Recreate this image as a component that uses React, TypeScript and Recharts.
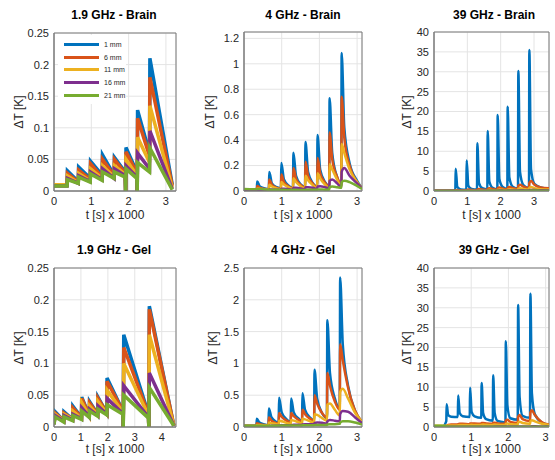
import { LineChart, Line, XAxis, YAxis, CartesianGrid, ReferenceArea } from 'recharts'

const seriesNames = ['1 mm', '6 mm', '11 mm', '16 mm', '21 mm']
const seriesColors = ['#0072BD', '#D95319', '#EDB120', '#7E2F8E', '#77AC30']

// 1.9 GHz - Brain
const brain19T = [0, 0.35, 0.36, 0.65, 0.66, 0.97, 0.98, 1.29, 1.30, 1.61, 1.62, 1.91, 1.92, 1.93, 2.22, 2.23, 2.24, 2.56, 2.57, 3.17]
const brain19 = [
  [0.01, 0.01, 0.032, 0.015, 0.038, 0.02, 0.047, 0.025, 0.057, 0.025, 0.053, 0.03, 0.0, 0.069, 0.03, 0.0, 0.128, 0.06, 0.21, 0.01],
  [0.01, 0.01, 0.028, 0.014, 0.033, 0.018, 0.043, 0.022, 0.05, 0.024, 0.05, 0.028, 0.0, 0.062, 0.028, 0.0, 0.115, 0.055, 0.18, 0.008],
  [0.01, 0.01, 0.024, 0.013, 0.028, 0.016, 0.035, 0.02, 0.04, 0.022, 0.04, 0.026, 0.0, 0.05, 0.025, 0.0, 0.085, 0.045, 0.135, 0.005],
  [0.008, 0.008, 0.02, 0.012, 0.024, 0.015, 0.03, 0.018, 0.035, 0.02, 0.035, 0.024, 0.0, 0.04, 0.022, 0.0, 0.06, 0.035, 0.095, 0.003],
  [0.008, 0.008, 0.018, 0.012, 0.022, 0.014, 0.027, 0.017, 0.03, 0.02, 0.03, 0.022, 0.0, 0.035, 0.02, 0.0, 0.045, 0.03, 0.068, 0.002],
]

// 4 GHz - Brain
const brain4T = [0, 0.34, 0.35, 0.42, 0.55, 0.66, 0.67, 0.74, 0.87, 0.98, 0.99, 1.06, 1.19, 1.30, 1.31, 1.38, 1.51, 1.62, 1.63, 1.70, 1.83, 1.94, 1.95, 2.02, 2.15, 2.26, 2.27, 2.34, 2.47, 2.58, 2.59, 2.66, 2.80, 3.00, 3.13]
const brain4 = [
  [0.01, 0.01, 0.075, 0.035, 0.02, 0.015, 0.15, 0.06, 0.03, 0.02, 0.22, 0.09, 0.04, 0.025, 0.30, 0.12, 0.05, 0.03, 0.385, 0.15, 0.06, 0.035, 0.44, 0.17, 0.07, 0.04, 0.73, 0.30, 0.11, 0.05, 1.085, 0.5, 0.22, 0.08, 0.02],
  [0.01, 0.01, 0.04, 0.025, 0.015, 0.012, 0.09, 0.05, 0.025, 0.015, 0.13, 0.07, 0.035, 0.02, 0.18, 0.095, 0.045, 0.025, 0.23, 0.12, 0.055, 0.03, 0.26, 0.14, 0.065, 0.035, 0.46, 0.25, 0.11, 0.045, 0.74, 0.42, 0.2, 0.07, 0.02],
  [0.01, 0.01, 0.02, 0.018, 0.012, 0.01, 0.05, 0.035, 0.02, 0.012, 0.07, 0.05, 0.028, 0.015, 0.10, 0.07, 0.035, 0.018, 0.12, 0.085, 0.045, 0.02, 0.14, 0.10, 0.05, 0.025, 0.21, 0.17, 0.09, 0.035, 0.37, 0.30, 0.17, 0.07, 0.02],
  [0.005, 0.005, 0.008, 0.008, 0.007, 0.006, 0.012, 0.012, 0.01, 0.008, 0.018, 0.018, 0.014, 0.01, 0.025, 0.025, 0.02, 0.012, 0.03, 0.03, 0.025, 0.015, 0.035, 0.038, 0.03, 0.02, 0.08, 0.09, 0.06, 0.03, 0.15, 0.18, 0.12, 0.06, 0.02],
  [0.015, 0.014, 0.015, 0.015, 0.012, 0.01, 0.01, 0.01, 0.01, 0.008, 0.009, 0.009, 0.008, 0.008, 0.009, 0.009, 0.008, 0.008, 0.01, 0.01, 0.009, 0.009, 0.012, 0.012, 0.01, 0.01, 0.03, 0.035, 0.03, 0.025, 0.07, 0.08, 0.07, 0.04, 0.015],
]

// 39 GHz - Brain
const brain39T = [0, 0.64, 0.65, 0.70, 0.80, 0.97, 0.98, 1.03, 1.13, 1.29, 1.30, 1.35, 1.45, 1.60, 1.61, 1.66, 1.76, 1.90, 1.91, 1.96, 2.06, 2.20, 2.21, 2.26, 2.36, 2.52, 2.53, 2.58, 2.68, 2.85, 2.86, 2.91, 3.01, 3.2, 3.45]
const brain39 = [
  [0.1, 0.15, 5.6, 1.0, 0.4, 0.3, 7.7, 1.3, 0.5, 0.35, 12.0, 2.0, 0.7, 0.4, 15.1, 2.4, 0.8, 0.45, 19.1, 3.0, 1.0, 0.5, 21.2, 3.4, 1.1, 0.6, 30.2, 4.8, 1.5, 0.7, 35.5, 5.5, 1.8, 0.9, 0.6],
  [0.05, 0.05, 0.15, 0.25, 0.15, 0.1, 0.25, 0.35, 0.25, 0.15, 0.35, 0.5, 0.35, 0.2, 0.5, 0.7, 0.5, 0.3, 0.7, 0.9, 0.6, 0.4, 0.8, 1.0, 0.7, 0.5, 1.3, 1.6, 1.1, 0.7, 2.0, 2.5, 1.6, 0.9, 0.7],
  [0.03, 0.03, 0.06, 0.1, 0.08, 0.06, 0.1, 0.15, 0.12, 0.08, 0.15, 0.22, 0.16, 0.1, 0.2, 0.3, 0.22, 0.15, 0.3, 0.4, 0.3, 0.2, 0.35, 0.45, 0.35, 0.25, 0.55, 0.7, 0.5, 0.35, 0.8, 1.0, 0.7, 0.45, 0.35],
  [0.02, 0.02, 0.03, 0.04, 0.04, 0.03, 0.04, 0.05, 0.05, 0.04, 0.05, 0.07, 0.06, 0.05, 0.07, 0.09, 0.08, 0.06, 0.09, 0.12, 0.1, 0.08, 0.11, 0.14, 0.12, 0.1, 0.16, 0.2, 0.17, 0.13, 0.22, 0.28, 0.24, 0.18, 0.15],
  [0.02, 0.02, 0.02, 0.02, 0.02, 0.02, 0.02, 0.03, 0.03, 0.03, 0.03, 0.03, 0.03, 0.03, 0.04, 0.04, 0.04, 0.04, 0.04, 0.05, 0.05, 0.05, 0.05, 0.06, 0.06, 0.06, 0.07, 0.08, 0.08, 0.07, 0.09, 0.1, 0.1, 0.09, 0.08],
]

// 1.9 GHz - Gel
const gel19T = [0, 0.04, 0.36, 0.37, 0.69, 0.70, 1.02, 1.03, 1.31, 1.32, 1.62, 1.63, 1.96, 1.97, 2.56, 2.57, 2.59, 3.51, 3.52, 3.54, 4.45]
const gel19 = [
  [0.005, 0.024, 0.01, 0.024, 0.012, 0.033, 0.015, 0.047, 0.018, 0.04, 0.02, 0.047, 0.022, 0.077, 0.025, 0.0, 0.145, 0.02, 0.0, 0.19, 0.002],
  [0.005, 0.022, 0.01, 0.022, 0.012, 0.03, 0.015, 0.045, 0.018, 0.038, 0.02, 0.045, 0.022, 0.072, 0.025, 0.0, 0.125, 0.02, 0.0, 0.185, 0.002],
  [0.005, 0.02, 0.01, 0.02, 0.012, 0.025, 0.014, 0.038, 0.017, 0.033, 0.019, 0.04, 0.021, 0.058, 0.023, 0.0, 0.1, 0.018, 0.0, 0.145, 0.002],
  [0.004, 0.018, 0.009, 0.018, 0.011, 0.02, 0.013, 0.03, 0.016, 0.028, 0.018, 0.033, 0.02, 0.045, 0.021, 0.0, 0.065, 0.015, 0.0, 0.085, 0.002],
  [0.004, 0.016, 0.008, 0.016, 0.01, 0.018, 0.012, 0.025, 0.015, 0.025, 0.017, 0.028, 0.019, 0.035, 0.02, 0.0, 0.05, 0.014, 0.0, 0.062, 0.002],
]

// 4 GHz - Gel
const gel4T = [0, 0.33, 0.34, 0.41, 0.54, 0.65, 0.66, 0.73, 0.86, 0.92, 0.93, 1.00, 1.13, 1.24, 1.25, 1.32, 1.45, 1.54, 1.55, 1.62, 1.75, 1.86, 1.87, 1.94, 2.07, 2.20, 2.21, 2.28, 2.41, 2.54, 2.55, 2.62, 2.76, 2.95, 3.13]
const gel4 = [
  [0.02, 0.02, 0.13, 0.07, 0.04, 0.03, 0.29, 0.15, 0.08, 0.06, 0.46, 0.23, 0.12, 0.08, 0.45, 0.23, 0.13, 0.09, 0.53, 0.27, 0.15, 0.1, 0.9, 0.45, 0.22, 0.14, 1.68, 0.85, 0.45, 0.28, 2.35, 1.3, 0.65, 0.25, 0.08],
  [0.02, 0.02, 0.06, 0.045, 0.03, 0.025, 0.15, 0.1, 0.06, 0.05, 0.22, 0.16, 0.1, 0.07, 0.22, 0.17, 0.11, 0.08, 0.27, 0.2, 0.13, 0.1, 0.5, 0.37, 0.22, 0.15, 0.85, 0.65, 0.4, 0.27, 1.3, 1.05, 0.62, 0.25, 0.08],
  [0.015, 0.015, 0.03, 0.03, 0.025, 0.02, 0.07, 0.06, 0.045, 0.035, 0.1, 0.09, 0.065, 0.05, 0.11, 0.1, 0.075, 0.06, 0.13, 0.12, 0.09, 0.07, 0.2, 0.19, 0.14, 0.1, 0.35, 0.37, 0.27, 0.18, 0.55, 0.6, 0.45, 0.22, 0.08],
  [0.01, 0.01, 0.01, 0.012, 0.012, 0.012, 0.015, 0.018, 0.018, 0.018, 0.025, 0.028, 0.028, 0.025, 0.03, 0.035, 0.035, 0.03, 0.04, 0.045, 0.045, 0.04, 0.06, 0.07, 0.065, 0.055, 0.09, 0.11, 0.1, 0.09, 0.2, 0.25, 0.24, 0.15, 0.06],
  [0.02, 0.02, 0.02, 0.02, 0.02, 0.02, 0.02, 0.02, 0.02, 0.02, 0.022, 0.022, 0.022, 0.022, 0.024, 0.024, 0.024, 0.024, 0.026, 0.026, 0.026, 0.026, 0.03, 0.03, 0.03, 0.03, 0.04, 0.045, 0.045, 0.05, 0.07, 0.09, 0.09, 0.07, 0.04],
]

// 39 GHz - Gel
const gel39T = [0, 0.22, 0.33, 0.34, 0.38, 0.46, 0.64, 0.65, 0.69, 0.77, 0.96, 0.97, 1.01, 1.09, 1.27, 1.28, 1.32, 1.40, 1.58, 1.59, 1.63, 1.71, 1.92, 1.93, 1.97, 2.05, 2.25, 2.26, 2.30, 2.38, 2.58, 2.59, 2.63, 2.71, 2.9, 3.1]
const gel39 = [
  [0, 0, 1.5, 5.7, 3.0, 2.6, 2.5, 7.9, 3.5, 2.7, 2.5, 9.9, 3.8, 2.7, 2.3, 11.1, 3.5, 2.0, 1.6, 13.0, 3.5, 1.5, 1.2, 21.6, 5.5, 2.2, 1.8, 30.7, 7.5, 2.8, 2.3, 33.5, 8.5, 3.2, 1.1, 0.5],
  [0, 0, 0.1, 0.3, 0.5, 0.6, 0.6, 0.7, 0.8, 0.8, 0.7, 0.9, 0.9, 0.9, 0.8, 1.0, 1.0, 0.9, 0.8, 1.1, 1.1, 0.9, 0.8, 1.6, 1.8, 1.3, 1.0, 2.5, 3.0, 2.0, 1.5, 3.6, 4.2, 3.0, 1.2, 0.6],
  [0.3, 0.3, 0.3, 0.35, 0.4, 0.4, 0.4, 0.45, 0.5, 0.5, 0.45, 0.5, 0.55, 0.5, 0.5, 0.55, 0.6, 0.55, 0.5, 0.6, 0.65, 0.55, 0.5, 0.8, 0.9, 0.7, 0.6, 1.1, 1.3, 1.0, 0.8, 1.4, 1.7, 1.4, 0.8, 0.5],
  [0.05, 0.05, 0.05, 0.05, 0.06, 0.06, 0.06, 0.06, 0.07, 0.07, 0.07, 0.07, 0.08, 0.08, 0.08, 0.08, 0.09, 0.09, 0.09, 0.09, 0.1, 0.1, 0.1, 0.11, 0.12, 0.12, 0.12, 0.13, 0.14, 0.14, 0.14, 0.15, 0.17, 0.17, 0.15, 0.12],
  [0.3, 0.3, 0.2, 0.15, 0.1, 0.08, 0.06, 0.06, 0.06, 0.06, 0.05, 0.05, 0.05, 0.05, 0.05, 0.05, 0.05, 0.05, 0.05, 0.05, 0.05, 0.05, 0.05, 0.05, 0.05, 0.05, 0.05, 0.05, 0.05, 0.05, 0.05, 0.05, 0.05, 0.05, 0.04, 0.04],
]

const ticks19 = [0, 0.05, 0.1, 0.15, 0.2, 0.25]
const ticksBrain4 = [0, 0.2, 0.4, 0.6, 0.8, 1, 1.2]
const ticksGel4 = [0, 0.5, 1, 1.5, 2, 2.5]
const ticks39 = [0, 5, 10, 15, 20, 25, 30, 35, 40]

const panels = [
  { title: '1.9 GHz - Brain', t: brain19T, series: brain19, xMax: 3.27, xTicks: [0, 1, 2, 3], yMax: 0.25, yTicks: ticks19, curve: 'linear', lw: 3.5, legend: true,
    left: 54, top: 33, w: 122, h: 158, titleX: 114, titleY: 15, yLabelX: 19, xLabelY: 215 },
  { title: '4 GHz - Brain', t: brain4T, series: brain4, xMax: 3.13, xTicks: [0, 1, 2, 3], yMax: 1.25, yTicks: ticksBrain4, curve: 'monotone', lw: 2.5,
    left: 244, top: 32, w: 118, h: 159, titleX: 303, titleY: 15, yLabelX: 210, xLabelY: 215 },
  { title: '39 GHz - Brain', t: brain39T, series: brain39, xMax: 3.45, xTicks: [0, 1, 2, 3], yMax: 40, yTicks: ticks39, curve: 'monotone', lw: 2.5,
    left: 434, top: 32, w: 115, h: 159, titleX: 494, titleY: 15, yLabelX: 407, xLabelY: 215 },
  { title: '1.9 GHz - Gel', t: gel19T, series: gel19, xMax: 4.53, xTicks: [0, 1, 2, 3, 4], yMax: 0.25, yTicks: ticks19, curve: 'linear', lw: 3.5,
    left: 54, top: 268, w: 122, h: 159, titleX: 114, titleY: 250, yLabelX: 19, xLabelY: 449 },
  { title: '4 GHz - Gel', t: gel4T, series: gel4, xMax: 3.13, xTicks: [0, 1, 2, 3], yMax: 2.5, yTicks: ticksGel4, curve: 'monotone', lw: 2.5,
    left: 244, top: 268, w: 118, h: 159, titleX: 303, titleY: 250, yLabelX: 213, xLabelY: 449 },
  { title: '39 GHz - Gel', t: gel39T, series: gel39, xMax: 3.09, xTicks: [0, 1, 2, 3], yMax: 40, yTicks: ticks39, curve: 'monotone', lw: 2.5,
    left: 434, top: 268, w: 115, h: 159, titleX: 494, titleY: 250, yLabelX: 407, xLabelY: 449 },
]

const axisColor = '#7a7a7a'
const textColor = '#262626'

function Panel({ p }: { p: any }) {
  const rows = p.t.map((t: number, i: number) => {
    const r: any = { t }
    p.series.forEach((s: number[], k: number) => { r['s' + k] = s[i] })
    return r
  })
  const padL = 60
  const padT = 10
  return (
    <>
      <div style={{ position: 'absolute', left: p.left - padL, top: p.top - padT }}>
        <LineChart width={p.w + padL + 10} height={p.h + padT + 30} data={rows}
          margin={{ top: padT, right: 10, bottom: 0, left: 0 }}>
          <CartesianGrid stroke="#e4e4e4" />
          <XAxis type="number" dataKey="t" domain={[0, p.xMax]} ticks={p.xTicks} interval={0}
            allowDataOverflow height={30} stroke={axisColor} tickLine={false} tickSize={4}
            tick={{ fontSize: 11, fill: textColor }} />
          <YAxis type="number" domain={[0, p.yMax]} ticks={p.yTicks} interval={0}
            allowDataOverflow width={padL} stroke={axisColor} tickLine={false} tickSize={3}
            tick={{ fontSize: 11, fill: textColor }} />
          <ReferenceArea x1={0} x2={p.xMax} y1={0} y2={p.yMax} fill="none" stroke={axisColor} />
          {p.series.map((_: number[], k: number) => (
            <Line key={k} dataKey={'s' + k} name={seriesNames[k]} type={p.curve}
              stroke={seriesColors[k]} strokeWidth={p.lw} dot={false} isAnimationActive={false} />
          ))}
        </LineChart>
      </div>
      <div style={{ position: 'absolute', left: p.titleX, top: p.titleY, transform: 'translate(-50%, -50%)',
        fontSize: 12, fontWeight: 'bold', whiteSpace: 'nowrap', color: '#000' }}>{p.title}</div>
      <div style={{ position: 'absolute', left: p.yLabelX, top: p.top + p.h / 2,
        transform: 'translate(-50%, -50%) rotate(-90deg)', fontSize: 12, whiteSpace: 'nowrap' }}>ΔT [K]</div>
      <div style={{ position: 'absolute', left: p.left + p.w / 2, top: p.xLabelY,
        transform: 'translate(-50%, -50%)', fontSize: 12, whiteSpace: 'nowrap' }}>t [s] x 1000</div>
      {p.legend && (
        <div style={{ position: 'absolute', left: p.left + 4, top: p.top + 2, width: 68, height: 66,
          background: '#fff', paddingTop: 3 }}>
          {seriesNames.map((n, k) => (
            <div key={n} style={{ display: 'flex', alignItems: 'center', height: 12.8 }}>
              <div style={{ marginLeft: 6, width: 35, height: 3, background: seriesColors[k] }} />
              <span style={{ marginLeft: 5, fontSize: 7 }}>{n}</span>
            </div>
          ))}
        </div>
      )}
    </>
  )
}

export default function App() {
  return (
    <div style={{ position: 'fixed', left: 0, top: 0, width: 555, height: 460, background: '#fff',
      fontFamily: '"Liberation Sans", Arial, sans-serif', color: textColor }}>
      {panels.map(p => <Panel key={p.title} p={p} />)}
    </div>
  )
}
